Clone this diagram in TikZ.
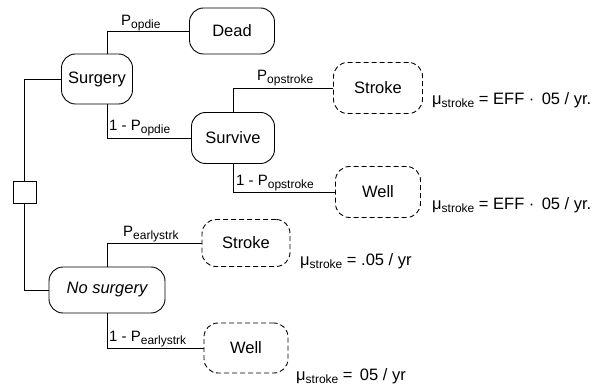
\documentclass[tikz,border=0pt]{standalone}
\usepackage{fontspec}
\setmainfont{Liberation Sans}
\newcommand{\mysub}[1]{\raisebox{-0.4ex}{\fontsize{12}{13}\selectfont #1}}
\begin{document}
\begin{tikzpicture}[x=1pt,y=-1pt,
  box/.style={draw, rounded corners=14pt, line width=0.9pt, inner sep=0pt, font=\fontsize{16.5}{19}\selectfont},
  dbox/.style={box, dash pattern=on 5pt off 3pt},
  lab/.style={anchor=south west, inner sep=1pt, font=\fontsize{15}{17}\selectfont},
  mu/.style={anchor=west, inner sep=0pt, font=\fontsize{16.5}{19}\selectfont},
  wire/.style={line width=0.8pt}]
\useasboundingbox (0,0) rectangle (613,387);
% nodes
\node[box, minimum width=85pt, minimum height=46pt] (dead) at (232,31) {Dead};
\node[box, minimum width=71pt, minimum height=50pt] (surgery) at (97,79) {Surgery};
\node[box, minimum width=83pt, minimum height=51pt] (survive) at (233,138) {Survive};
\node[dbox, minimum width=89pt, minimum height=51pt] (strokeA) at (378,88) {Stroke};
\node[dbox, minimum width=85pt, minimum height=51pt] (wellA) at (378,192) {Well};
\node[box, minimum width=116pt, minimum height=46pt, font=\fontsize{16.5}{19}\selectfont\itshape] (nosurg) at (107,290) {No surgery};
\node[dbox, minimum width=88pt, minimum height=47pt] (strokeB) at (246,243) {Stroke};
\node[dbox, minimum width=84pt, minimum height=50pt] (wellB) at (246,348) {Well};
\node[draw, line width=0.9pt, minimum width=23pt, minimum height=22pt, inner sep=0pt] (sq) at (24.5,192) {};
% connectors
\draw[wire] (surgery.west) -| (sq.north);
\draw[wire] (sq.south) |- (nosurg.west);
\draw[wire] ([xshift=10pt]surgery.north) |- (dead.west);
\draw[wire] ([xshift=10pt]surgery.south) |- (survive.west);
\draw[wire] (survive.north) |- (strokeA.west);
\draw[wire] (survive.south) |- (wellA.west);
\draw[wire] (nosurg.north) |- (strokeB.west);
\draw[wire] (nosurg.south) |- (wellB.west);
% branch labels
\node[lab] (l1) at (120,32) {P\mysub{opdie}};
\node[lab] (l2) at (108,137) {1 - P\mysub{opdie}};
\node[lab] (l3) at (256,87) {P\mysub{opstroke}};
\node[lab] (l4) at (235,192) {1 - P\mysub{opstroke}};
\node[lab] (l5) at (122,243) {P\mysub{earlystrk}};
\node[lab] (l6) at (108,348) {1 - P\mysub{earlystrk}};
% rates
\node[mu] (m1) at (432,100) {μ\mysub{stroke} = EFF ·\, 05 / yr.};
\node[mu] (m2) at (432,205) {μ\mysub{stroke} = EFF ·\, 05 / yr.};
\node[mu] (m3) at (300,261) {μ\mysub{stroke} = .05 / yr};
\node[mu] (m4) at (296,376) {μ\mysub{stroke} =\, 05 / yr};
\end{tikzpicture}
\end{document}
